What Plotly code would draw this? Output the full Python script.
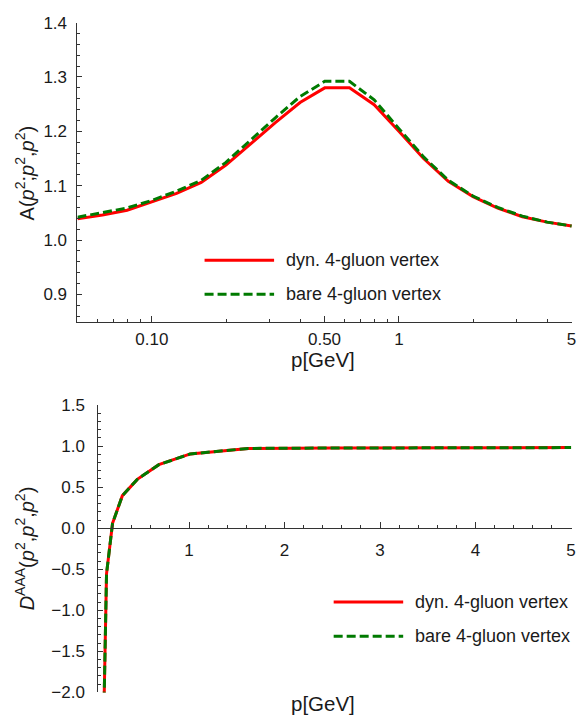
import plotly.graph_objects as go

# ---------------- data ----------------
p_top = [0.05, 0.0631, 0.0794, 0.1, 0.1259, 0.1585, 0.1995, 0.2512, 0.3162, 0.3981,
         0.5012, 0.631, 0.7943, 1.0, 1.259, 1.585, 1.995, 2.512, 3.162, 3.981, 5.0]
A_dyn = [1.039, 1.046, 1.055, 1.070, 1.086, 1.106, 1.138, 1.177, 1.216, 1.253,
         1.280, 1.280, 1.249, 1.200, 1.150, 1.108, 1.080, 1.059, 1.043, 1.033, 1.026]
A_bare = [1.042, 1.050, 1.059, 1.073, 1.090, 1.110, 1.143, 1.184, 1.225, 1.264,
          1.292, 1.292, 1.258, 1.205, 1.153, 1.110, 1.081, 1.060, 1.044, 1.033, 1.026]

p_bot = [0.1106, 0.136, 0.199, 0.302, 0.458, 0.684, 1.013, 1.62, 2.5, 3.7, 5.0]
D_dyn = [-2.1, -0.556, 0.06, 0.397, 0.595, 0.774, 0.905, 0.972, 0.977, 0.980, 0.982]
D_bare = [-2.1, -0.556, 0.06, 0.397, 0.595, 0.774, 0.905, 0.972, 0.977, 0.980, 0.982]

top_xticks = [0.1, 0.5, 1, 5]
top_xticktext = ["0.10", "0.50", "1", "5"]
top_xminor = [0.05, 0.06, 0.07, 0.08, 0.09, 0.2, 0.3, 0.4, 0.6, 0.7, 0.8, 0.9, 2, 3, 4]
top_yticks = [0.9, 1.0, 1.1, 1.2, 1.3, 1.4]
bot_xticks = [1, 2, 3, 4, 5]
bot_yticks = [-2.0, -1.5, -1.0, -0.5, 0.0, 0.5, 1.0, 1.5]

legend_names = ["dyn. 4-gluon vertex", "bare 4-gluon vertex"]

# ---------------- style ----------------
W, H = 577, 728
FONT = "Liberation Sans, Arial, Helvetica, sans-serif"
RED = "#ff0000"
GREEN = "#007a00"
DASH = "9px,4px"
AX = "#333333"
TXT = "#1a1a1a"

def px_x(x):
    return x / W

def px_y(y):
    return 1 - y / H

fig = go.Figure()

fig.add_trace(go.Scatter(x=p_top, y=A_dyn, mode="lines", xaxis="x", yaxis="y",
                         line=dict(color=RED, width=3), name=legend_names[0], showlegend=False))
fig.add_trace(go.Scatter(x=p_top, y=A_bare, mode="lines", xaxis="x", yaxis="y",
                         line=dict(color=GREEN, width=3, dash=DASH), name=legend_names[1], showlegend=False))
fig.add_trace(go.Scatter(x=p_bot, y=D_dyn, mode="lines", xaxis="x2", yaxis="y2",
                         line=dict(color=RED, width=3), name=legend_names[0], showlegend=False))
fig.add_trace(go.Scatter(x=p_bot, y=D_bare, mode="lines", xaxis="x2", yaxis="y2",
                         line=dict(color=GREEN, width=3, dash=DASH), name=legend_names[1], showlegend=False))

tickfont = dict(family=FONT, size=17, color=TXT)
common = dict(showline=True, linecolor=AX, linewidth=1, ticks="inside", tickcolor=AX,
              showgrid=False, zeroline=False, tickfont=tickfont, ticklabeloverflow="allow")

y0_bot = 533.3  # pixel of y=0 in bottom panel

fig.update_layout(
    width=W, height=H,
    margin=dict(l=0, r=0, t=0, b=0),
    paper_bgcolor="white", plot_bgcolor="white",
    showlegend=False,
    xaxis=dict(type="log", domain=[px_x(78), px_x(576)], anchor="y",
               range=[-1.30103, 0.7008],
               tickmode="array", tickvals=top_xticks, ticktext=top_xticktext,
               ticklen=6, tickwidth=1, ticklabelstandoff=2,
               minor=dict(tickmode="array", tickvals=top_xminor, ticks="inside",
                          ticklen=3, tickcolor=AX, tickwidth=1),
               **common),
    yaxis=dict(domain=[px_y(321), px_y(14)], anchor="x", range=[0.85, 1.4],
               tickmode="array", tickvals=top_yticks, tickformat=".1f",
               ticklen=5, tickwidth=1, ticklabelstandoff=6,
               minor=dict(dtick=0.02, tick0=0, ticks="inside", ticklen=3,
                          tickcolor=AX, tickwidth=1),
               **common),
    xaxis2=dict(domain=[px_x(99), px_x(576)], anchor="free", position=px_y(y0_bot),
                range=[0.05, 5.01],
                tickmode="array", tickvals=bot_xticks, ticklen=6, tickwidth=1,
                ticklabelstandoff=6,
                minor=dict(dtick=0.2, tick0=0, ticks="inside", ticklen=3,
                           tickcolor=AX, tickwidth=1),
                **common),
    yaxis2=dict(domain=[px_y(701.7), px_y(406.7)], anchor="x2", range=[-2.0, 1.5],
                tickmode="array", tickvals=bot_yticks, tickformat=".1f",
                ticklen=5, tickwidth=1, ticklabelstandoff=9,
                minor=dict(dtick=0.1, tick0=0, ticks="inside", ticklen=3,
                           tickcolor=AX, tickwidth=1),
                **common),
)

titlefont = dict(family=FONT, size=20.5, color=TXT)
annotations = [
    dict(text="p[GeV]", x=px_x(325), y=px_y(360), xref="paper", yref="paper",
         showarrow=False, font=titlefont, xanchor="center", yanchor="middle"),
    dict(text="p[GeV]", x=px_x(325), y=px_y(713), xref="paper", yref="paper",
         showarrow=False, font=titlefont, xanchor="center", yanchor="middle"),
    dict(text="A(<i>p</i><sup>2</sup>;<i>p</i><sup>2</sup>,<i>p</i><sup>2</sup>)",
         x=px_x(25), y=px_y(168), xref="paper", yref="paper", textangle=-90,
         showarrow=False, font=dict(family=FONT, size=20, color=TXT),
         xanchor="center", yanchor="middle"),
    dict(text="<i>D</i><sup>AAA</sup>(<i>p</i><sup>2</sup>,<i>p</i><sup>2</sup>,<i>p</i><sup>2</sup>)",
         x=px_x(25), y=px_y(554), xref="paper", yref="paper", textangle=-90,
         showarrow=False, font=dict(family=FONT, size=20, color=TXT),
         xanchor="center", yanchor="middle"),
]

legfont = dict(family=FONT, size=18, color=TXT)
shapes = []
# legend blocks: (sample x0, x1, text x, row y's)
for (sx0, sx1, tx, ys) in [(206, 276, 286, (258, 293)), (336, 406, 416, (609, 644))]:
    for i, (col, dash) in enumerate([(RED, "solid"), (GREEN, DASH)]):
        shapes.append(dict(type="line", xref="paper", yref="paper",
                           x0=px_x(sx0), x1=px_x(sx1), y0=px_y(ys[i]), y1=px_y(ys[i]),
                           line=dict(color=col, width=3, dash=dash)))
        annotations.append(dict(text=legend_names[i], x=px_x(tx), y=px_y(ys[i]),
                                xref="paper", yref="paper", showarrow=False,
                                font=legfont, xanchor="left", yanchor="middle"))

fig.update_layout(annotations=annotations, shapes=shapes)

fig.write_html("out.html")
